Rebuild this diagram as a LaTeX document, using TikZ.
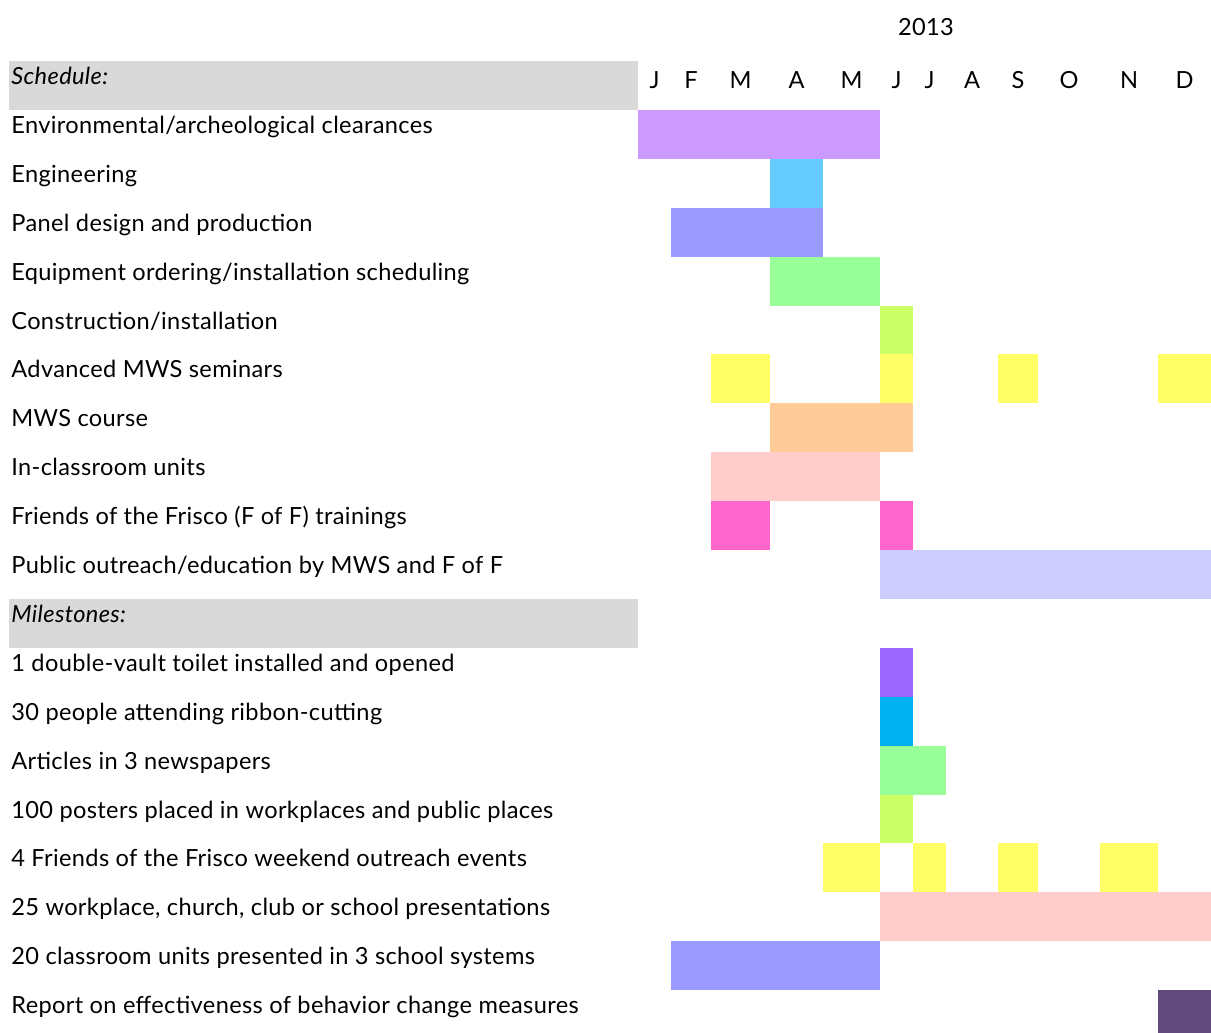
\documentclass[tikz,border=0pt]{standalone}
\usepackage{fontspec}
\setmainfont{Lato}[LetterSpace=1.5]
\usepackage{xcolor}
\usepackage{tikz}
\usetikzlibrary{positioning}

\definecolor{hdrgray}{HTML}{D9D9D9}
\definecolor{clav}{HTML}{CC99FF}
\definecolor{csky}{HTML}{66CCFF}
\definecolor{cperi}{HTML}{9999FF}
\definecolor{cmint}{HTML}{99FF99}
\definecolor{clime}{HTML}{CCFF66}
\definecolor{cyel}{HTML}{FFFF66}
\definecolor{cpeach}{HTML}{FFCC99}
\definecolor{crose}{HTML}{FFCCCC}
\definecolor{cpink}{HTML}{FF66CC}
\definecolor{cmist}{HTML}{CCCCFF}
\definecolor{cviolet}{HTML}{9966FF}
\definecolor{ccyan}{HTML}{00B0F0}
\definecolor{cplum}{HTML}{604A7B}

\begin{document}
\begin{tikzpicture}[x=0.5pt,y=-0.5pt,
    lbl/.style={anchor=base west, inner sep=0pt, font=\fontsize{11.8}{13}\selectfont},
    hdr/.style={lbl, font=\fontsize{11.8}{13}\selectfont\itshape},
    month/.style={anchor=base, inner sep=0pt, font=\fontsize{11.8}{13}\selectfont}]
    \useasboundingbox (0,0) rectangle (1211,1033);

    % Year and months
    \node[month] (year) at (926,35) {2013};
    \node[month] (mJan) at (654.5,88) {J};
    \node[month] (mFeb) at (691,88) {F};
    \node[month] (mMar) at (740.5,88) {M};
    \node[month] (mApr) at (796.5,88) {A};
    \node[month] (mMay) at (851.5,88) {M};
    \node[month] (mJun) at (896.5,88) {J};
    \node[month] (mJul) at (929.5,88) {J};
    \node[month] (mAug) at (972,88) {A};
    \node[month] (mSep) at (1018,88) {S};
    \node[month] (mOct) at (1069,88) {O};
    \node[month] (mNov) at (1129,88) {N};
    \node[month] (mDec) at (1184.5,88) {D};

    % Section bands
    \fill[hdrgray] (9,61) rectangle (638,109.9);
    \fill[hdrgray] (9,598.9) rectangle (638,647.8);

    % Schedule
    \node[hdr] (sched) at (11,84.5) {Schedule:};
    \node[lbl] (env) at (11,133.4) {Environmental/archeological clearances};
    \node[lbl] (eng) at (11,182.3) {Engineering};
    \node[lbl] (panel) at (11,231.2) {Panel design and production};
    \node[lbl] (equip) at (11,280.1) {Equipment ordering/installation scheduling};
    \node[lbl] (constr) at (11,329) {Construction/installation};
    \node[lbl] (semin) at (11,377.9) {Advanced MWS seminars};
    \node[lbl] (course) at (11,426.8) {MWS course};
    \node[lbl] (units) at (11,475.7) {In-classroom units};
    \node[lbl] (friends) at (11,524.6) {Friends of the Frisco (F of F) trainings};
    \node[lbl] (public) at (11,573.5) {Public outreach/education by MWS and F of F};

    \fill[clav] (638,109.9) rectangle (880,158.8);
    \fill[csky] (770,158.8) rectangle (823,207.7);
    \fill[cperi] (671,207.7) rectangle (823,256.6);
    \fill[cmint] (770,256.6) rectangle (880,305.5);
    \fill[clime] (880,305.5) rectangle (913,354.4);
    \fill[cyel] (711,354.4) rectangle (770,403.3);
    \fill[cyel] (880,354.4) rectangle (913,403.3);
    \fill[cyel] (998,354.4) rectangle (1038,403.3);
    \fill[cyel] (1158,354.4) rectangle (1211,403.3);
    \fill[cpeach] (770,403.3) rectangle (913,452.2);
    \fill[crose] (711,452.2) rectangle (880,501.1);
    \fill[cpink] (711,501.1) rectangle (770,550);
    \fill[cpink] (880,501.1) rectangle (913,550);
    \fill[cmist] (880,550) rectangle (1211,598.9);

    % Milestones
    \node[hdr] (miles) at (11,622.4) {Milestones:};
    \node[lbl] (toilet) at (11,671.3) {1 double-vault toilet installed and opened};
    \node[lbl] (ribbon) at (11,720.2) {30 people attending ribbon-cutting};
    \node[lbl] (articles) at (11,769.1) {Articles in 3 newspapers};
    \node[lbl] (posters) at (11,818) {100 posters placed in workplaces and public places};
    \node[lbl] (events) at (11,866.9) {4 Friends of the Frisco weekend outreach events};
    \node[lbl] (talks) at (11,915.8) {25 workplace, church, club or school presentations};
    \node[lbl] (classes) at (11,964.7) {20 classroom units presented in 3 school systems};
    \node[lbl] (report) at (11,1013.6) {Report on effectiveness of behavior change measures};

    \fill[cviolet] (880,647.8) rectangle (913,696.7);
    \fill[ccyan] (880,696.7) rectangle (913,745.6);
    \fill[cmint] (880,745.6) rectangle (946,794.5);
    \fill[clime] (880,794.5) rectangle (913,843.4);
    \fill[cyel] (823,843.4) rectangle (880,892.3);
    \fill[cyel] (913,843.4) rectangle (946,892.3);
    \fill[cyel] (998,843.4) rectangle (1038,892.3);
    \fill[cyel] (1100,843.4) rectangle (1158,892.3);
    \fill[crose] (880,892.3) rectangle (1211,941.2);
    \fill[cperi] (671,941.2) rectangle (880,990.1);
    \fill[cplum] (1158,990.1) rectangle (1211,1039);
\end{tikzpicture}
\end{document}
